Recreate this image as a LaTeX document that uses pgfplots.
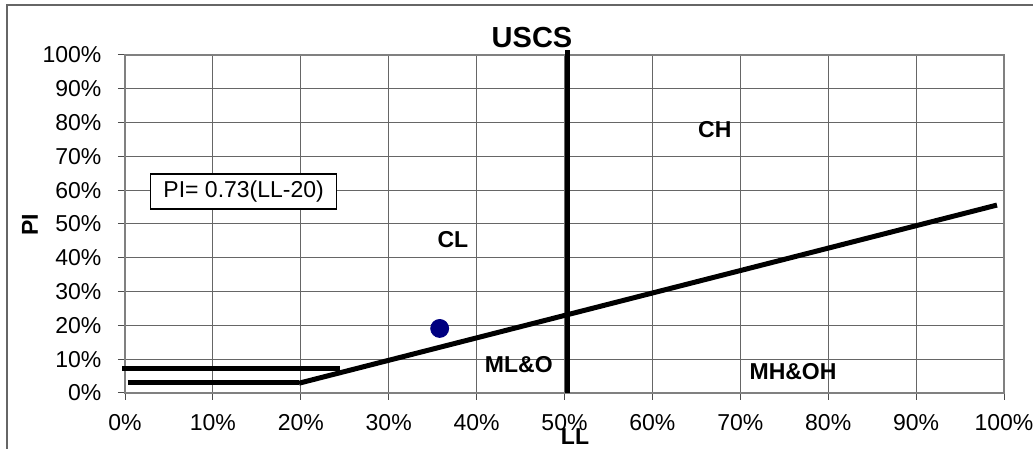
\documentclass[border=0pt]{standalone}
\usepackage{fontspec}
\setmainfont{Liberation Sans}
\usepackage{pgfplots}
\pgfplotsset{compat=1.18}
\definecolor{navyblue}{HTML}{000080}
\begin{document}
\begin{tikzpicture}
\begin{axis}[
 at={(62.5pt,28pt)}, anchor=south west,
 scale only axis, width=439.5pt, height=169pt,
 xmin=0, xmax=100, ymin=0, ymax=100,
 xtick={0,10,...,100}, ytick={0,10,...,100},
 xticklabels={0\%,10\%,20\%,30\%,40\%,50\%,60\%,70\%,80\%,90\%,100\%},
 yticklabels={0\%,10\%,20\%,30\%,40\%,50\%,60\%,70\%,80\%,90\%,100\%},
 tick pos=left,
 grid=major, major grid style={draw=black!60, line width=0.5pt},
 tick align=outside, major tick length=3.5pt,
 tick style={draw=black!70, line width=0.5pt},
 axis line style={draw=black!50, line width=0.9pt},
 ticklabel style={font=\fontsize{11.5}{13}\selectfont},
 /pgf/number format/assume math mode=true,
 xticklabel style={yshift=-3.5pt}, yticklabel style={xshift=-4.8pt},
 clip=false,
]
\addplot[black, line width=2.5pt] coordinates {(-0.3,7.3) (24.5,7.3)};
\addplot[black, line width=2.5pt] coordinates {(0.3,3.2) (19.8,3.2)};
\addplot[black, line width=2.5pt] coordinates {(19.8,2.9) (99.2,55.6)};
\addplot[black, line width=2.5pt] coordinates {(50.3,0) (50.3,101.5)};
\addplot[only marks, mark=*, mark size=4.5pt, color=navyblue] coordinates {(35.8,19.1)};
\node[font=\bfseries\fontsize{11.5}{13}\selectfont] at (axis cs:67.1,77.8) {CH};
\node[font=\bfseries\fontsize{11.5}{13}\selectfont] at (axis cs:37.3,45.3) {CL};
\node[font=\bfseries\fontsize{11.5}{13}\selectfont] at (axis cs:44.8,8.3) {ML\&O};
\node[font=\bfseries\fontsize{11.5}{13}\selectfont] at (axis cs:76,6.2) {MH\&OH};
\node[draw=black, fill=white, line width=0.6pt, inner xsep=6.5pt, minimum height=17.5pt, font=\fontsize{11.5}{13}\selectfont] at (axis cs:13.5,59.6) {PI= 0.73(LL-20)};
\end{axis}
\node[font=\bfseries\fontsize{14.5}{16}\selectfont] at (266pt,205.5pt) {USCS};
\node[rotate=90, font=\bfseries\fontsize{11.5}{13}\selectfont] at (15pt,112pt) {PI};
\node[font=\bfseries\fontsize{11.5}{13}\selectfont] at (287.5pt,6pt) {LL};
\draw[black!60, line width=0.8pt] (3.5pt,0) -- (3.5pt,222pt) -- (516.5pt,222pt);
\pgfresetboundingbox
\path[use as bounding box] (0,0) rectangle (516.5pt,224.5pt);
\end{tikzpicture}
\end{document}
